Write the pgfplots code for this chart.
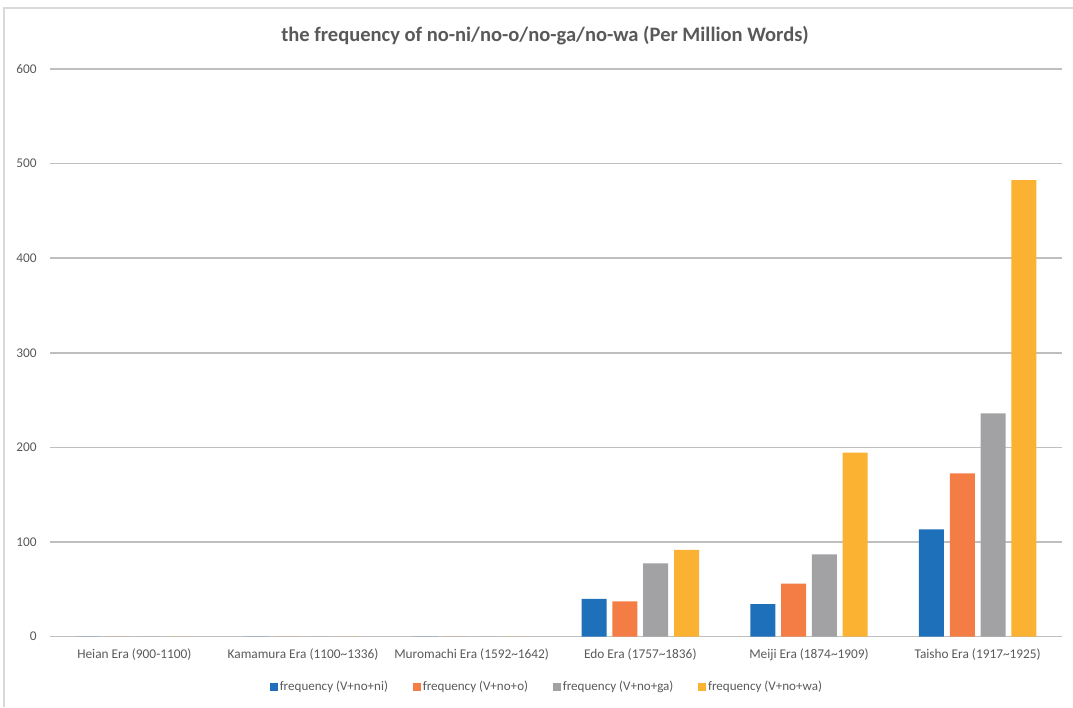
\documentclass[border=0pt]{standalone}
\usepackage{pgfplots}
\pgfplotsset{compat=1.18}
\usepackage{fontspec}
\setmainfont{Carlito}
\definecolor{cblue}{HTML}{1F70BA}
\definecolor{corange}{HTML}{F47C45}
\definecolor{cgray}{HTML}{A2A2A4}
\definecolor{cyellow}{HTML}{FBB132}
\definecolor{txt}{HTML}{595959}
\definecolor{grid}{HTML}{D9D9D9}
\begin{document}
\begin{tikzpicture}
% bounding box: px (X,Y) -> (0.75*(X-50), 0.75*(636.7-Y)) pt
\path[use as bounding box] (-37.5pt,-52.75pt) rectangle (767.25pt,477.5pt);
\draw[grid, line width=1pt] (-34.5pt,-52.75pt) -- (-34.5pt,471.5pt) -- (767.25pt,471.5pt);
\begin{axis}[
  at={(0pt,0pt)}, anchor=south west,
  scale only axis, width=759pt, height=425.8pt,
  ybar=4.35pt, bar width=18.75pt,
  xmin=-0.5, xmax=5.5, ymin=0, ymax=600,
  ytick={0,100,...,600},
  xtick={0,...,5},
  xticklabels={Heian Era (900-1100),Kamamura Era (1100\textasciitilde1336),Muromachi Era (1592\textasciitilde1642),Edo Era (1757\textasciitilde1836),Meiji Era (1874\textasciitilde1909),Taisho Era (1917\textasciitilde1925)},
  axis line style={draw=none},
  major tick length=0pt,
  xmajorgrids=false,
  ymajorgrids, grid style={grid, line width=1.1pt},
  /pgf/number format/assume math mode=true,
  tick label style={font=\fontsize{10}{12}\selectfont, text=txt},
  yticklabel style={anchor=east, inner sep=0pt, xshift=-9.75pt},
  xticklabel style={anchor=north, inner sep=0pt, yshift=-9pt},
  legend style={at={(0.491,-0.0886)}, anchor=center, draw=none, fill=none,
    legend columns=4, font=\fontsize{9.8}{11}\selectfont, text=txt,
    nodes={inner sep=1.5pt},
    /tikz/every even column/.append style={column sep=17pt}},
  legend image code/.code={\fill[#1] (0pt,-3pt) rectangle (6pt,3pt);},
  legend cell align=left,
  clip=false,
]
\addplot[fill=cblue, draw=none] coordinates {(0,0) (1,0) (2,0) (3,40) (4,34.3) (5,113.4)};
\addplot[fill=corange, draw=none] coordinates {(0,0) (1,0) (2,0) (3,37.2) (4,56) (5,172.5)};
\addplot[fill=cgray, draw=none] coordinates {(0,0) (1,0) (2,0) (3,77.4) (4,87) (5,236)};
\addplot[fill=cyellow, draw=none] coordinates {(0,0) (1,0) (2,0) (3,91.6) (4,194.5) (5,482.5)};
\legend{frequency (V+no+ni),frequency (V+no+o),frequency (V+no+ga),frequency (V+no+wa)}
\end{axis}
\node[font=\bfseries\fontsize{15.4}{17}\selectfont, text=txt] at (371.25pt,450.5pt) {the frequency of no-ni/no-o/no-ga/no-wa (Per Million Words)};
\end{tikzpicture}
\end{document}
